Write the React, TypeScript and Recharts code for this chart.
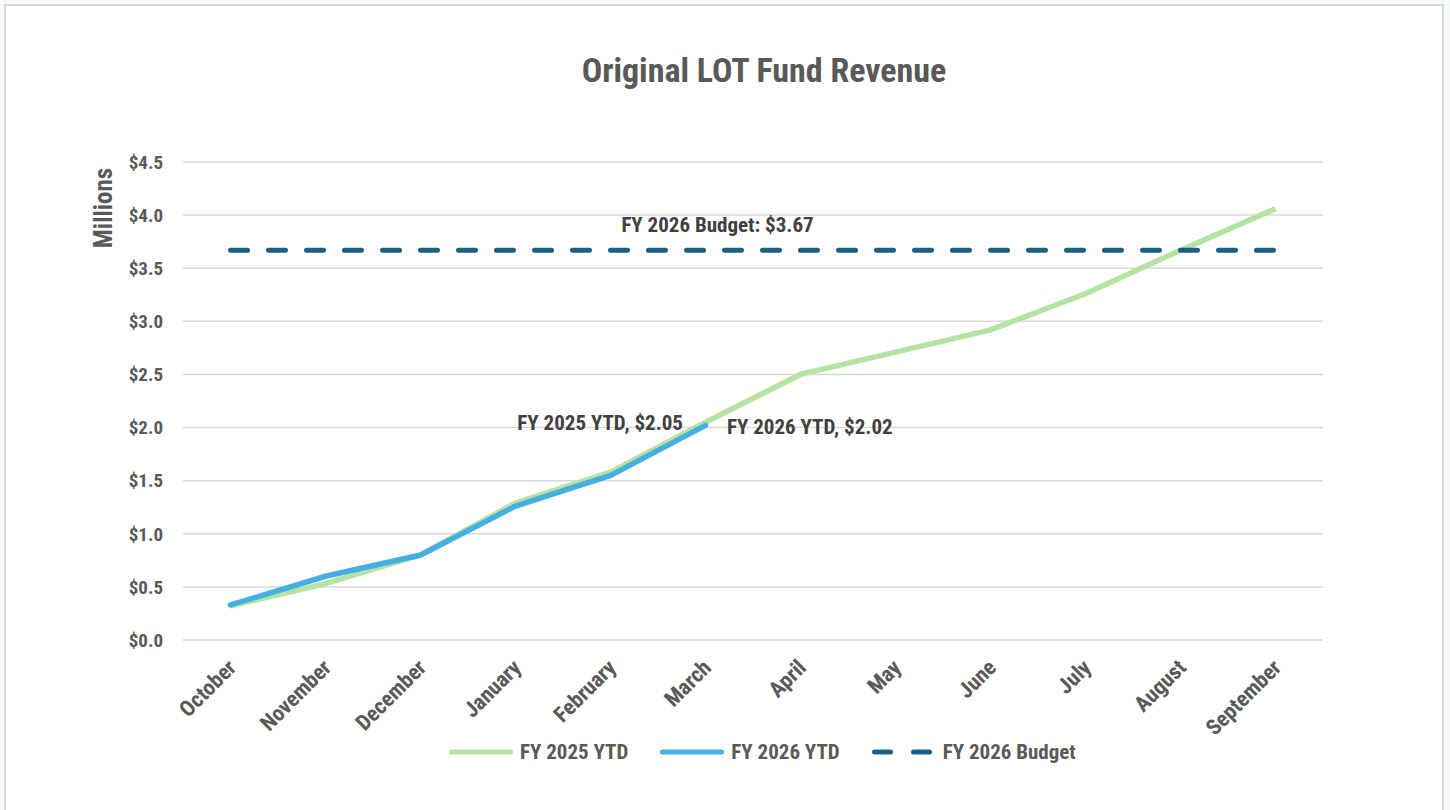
import { LineChart, Line, XAxis, YAxis, CartesianGrid } from 'recharts';

const MONTHS = [
  'October', 'November', 'December', 'January', 'February', 'March',
  'April', 'May', 'June', 'July', 'August', 'September',
];

// $ millions
const FY2025_YTD = [0.32, 0.53, 0.8, 1.29, 1.58, 2.05, 2.5, 2.71, 2.92, 3.26, 3.67, 4.06];
const FY2026_YTD = [0.33, 0.6, 0.8, 1.26, 1.55, 2.02];
const FY2026_BUDGET = 3.67;

const Y_TICKS = [0, 0.5, 1, 1.5, 2, 2.5, 3, 3.5, 4, 4.5];

const FONT = "'Liberation Sans Narrow', 'Roboto Condensed', Roboto, sans-serif";
const GREEN = '#b5e3a1';
const BLUE = '#46afe2';
const NAVY = '#1a5f85';
const GREY_TEXT = '#595959';

const data = MONTHS.map((month, i) => ({
  month,
  fy2025: FY2025_YTD[i] ?? null,
  fy2026: FY2026_YTD[i] ?? null,
  budget: FY2026_BUDGET,
}));

const MonthTick = ({ x, y, payload }: any) => (
  <text
    x={x + 7}
    y={y + 21}
    transform={`rotate(-45 ${x + 7} ${y + 21})`}
    textAnchor="end"
    fill={GREY_TEXT}
    fontFamily={FONT}
    fontWeight={700}
    fontSize={22}
  >
    {payload.value}
  </text>
);

// only one data label per series, on March
const pointLabel = (text: string, dx: number, dy: number, anchor: 'start' | 'end' | 'middle', idx: number) =>
  (props: any) => {
    if (props.index !== idx) return null;
    return (
      <text
        x={props.x + dx}
        y={props.y + dy}
        textAnchor={anchor}
        fill="#404040"
        fontFamily={FONT}
        fontWeight={700}
        fontSize={21}
      >
        {text}
      </text>
    );
  };

const LegendItem = ({ color, dashed, label }: { color: string; dashed?: boolean; label: string }) => (
  <div style={{ display: 'flex', alignItems: 'center', marginRight: 32 }}>
    <svg width={64} height={10} style={{ marginRight: 7 }}>
      {dashed ? (
        <g stroke={color} strokeWidth={5} strokeLinecap="round">
          <line x1={2.5} y1={5} x2={18.5} y2={5} />
          <line x1={41.5} y1={5} x2={57.5} y2={5} />
        </g>
      ) : (
        <line x1={2.5} y1={5} x2={61.5} y2={5} stroke={color} strokeWidth={5} strokeLinecap="round" />
      )}
    </svg>
    <span>{label}</span>
  </div>
);

const App = () => {
  return (
    <div style={{ position: 'absolute', left: 0, top: 0, width: 1450, height: 810, background: '#f4f8fb', overflow: 'hidden' }}>
      <div
        style={{
          position: 'absolute',
          left: 4,
          top: 4,
          width: 1436,
          height: 820,
          background: '#ffffff',
          borderLeft: '2px solid #d9d9d9',
          borderTop: '2px solid #d9d9d9',
          borderRight: '2px solid #d9d9d9',
        }}
      />
      <div
        style={{
          position: 'absolute',
          left: 0,
          top: 50,
          width: 1528,
          textAlign: 'center',
          fontFamily: FONT,
          fontWeight: 700,
          fontSize: 34,
          color: GREY_TEXT,
        }}
      >
        Original LOT Fund Revenue
      </div>
      <div style={{ position: 'absolute', left: 0, top: 0 }}>
        <LineChart width={1450} height={810} data={data} margin={{ top: 162, right: 127, bottom: 80, left: 0 }}>
          <CartesianGrid vertical={false} stroke="#d9d9d9" strokeWidth={1.5} />
          <XAxis
            dataKey="month"
            interval={0}
            padding={{ left: 47.5, right: 47.5 }}
            axisLine={{ stroke: '#d9d9d9', strokeWidth: 1.5 }}
            tickLine={false}
            tick={<MonthTick />}
            height={90}
          />
          <YAxis
            width={183}
            domain={[0, 4.5]}
            ticks={Y_TICKS}
            axisLine={false}
            tickLine={false}
            tickSize={0}
            tickMargin={20}
            tickFormatter={(v: number) => `$${v.toFixed(1)}`}
            tick={{ fill: GREY_TEXT, fontFamily: FONT, fontWeight: 700, fontSize: 19 }}
            label={{
              content: () => (
                <text
                  x={112}
                  y={208}
                  transform="rotate(-90 112 208)"
                  textAnchor="middle"
                  fill={GREY_TEXT}
                  fontFamily={FONT}
                  fontWeight={700}
                  fontSize={25}
                >
                  Millions
                </text>
              ),
            }}
          />
          <Line
            dataKey="fy2025"
            stroke={GREEN}
            strokeWidth={5.5}
            dot={false}
            isAnimationActive={false}
            label={pointLabel('FY 2025 YTD, $2.05', -22.5, 8, 'end', 5)}
          />
          <Line
            dataKey="fy2026"
            stroke={BLUE}
            strokeWidth={5.5}
            strokeLinecap="round"
            dot={false}
            isAnimationActive={false}
            label={pointLabel('FY 2026 YTD, $2.02', 21.5, 9, 'start', 5)}
          />
          <Line
            dataKey="budget"
            stroke={NAVY}
            strokeWidth={5}
            strokeDasharray="17 21"
            strokeLinecap="round"
            dot={false}
            isAnimationActive={false}
            label={pointLabel('FY 2026 Budget: $3.67', 12, -18, 'middle', 5)}
          />
        </LineChart>
      </div>
      <div
        style={{
          position: 'absolute',
          left: 449,
          top: 740,
          display: 'flex',
          fontFamily: FONT,
          fontWeight: 700,
          fontSize: 21,
          color: GREY_TEXT,
        }}
      >
        <LegendItem color={GREEN} label="FY 2025 YTD" />
        <LegendItem color={BLUE} label="FY 2026 YTD" />
        <LegendItem color={NAVY} dashed label="FY 2026 Budget" />
      </div>
    </div>
  );
};

export default App;
